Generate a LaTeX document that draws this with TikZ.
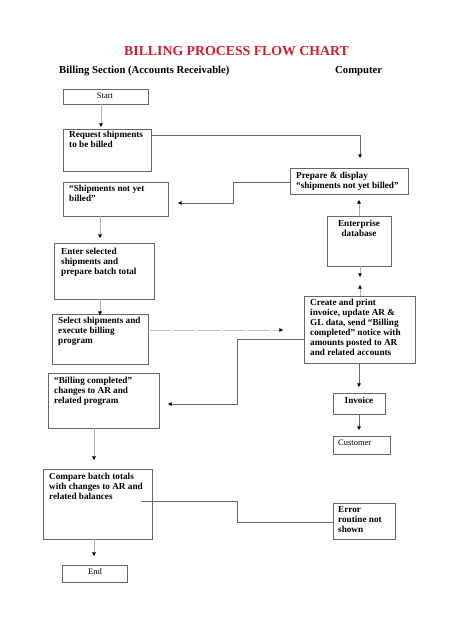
\documentclass[tikz,border=0pt]{standalone}
\usepackage{fontspec}
\setmainfont{Liberation Serif}
\usetikzlibrary{arrows.meta,calc}
\definecolor{titlered}{HTML}{D0202A}
\definecolor{boxgray}{HTML}{666666}
\definecolor{lightgray}{HTML}{B0B0B0}
\begin{document}
\begin{tikzpicture}[x=1pt,y=-1pt,
  box/.style={draw=boxgray,line width=0.9pt,anchor=north west,inner sep=0pt,outer sep=0pt},
  txt/.style={anchor=north west,inner sep=0pt,align=left,font=\fontsize{9.2}{10}\selectfont\bfseries},
  ctxt/.style={anchor=north,inner sep=0pt,align=center,font=\fontsize{9.2}{10}\selectfont\bfseries},
  ntxt/.style={inner sep=0pt,font=\fontsize{8.5}{10}\selectfont},
  tip/.style={-{Triangle[width=3.6pt,length=3.6pt,black]}},
  conn/.style={draw=boxgray,line width=0.8pt,line join=miter},
  faint/.style={draw=lightgray,line width=0.7pt},
  faintdash/.style={draw=lightgray!80,line width=0.7pt,dash pattern=on 22pt off 3pt}]
\useasboundingbox[fill=white] (0,0) rectangle (474,632);

% title and headers
\node[inner sep=0pt,text=titlered,font=\fontsize{13.8}{15}\selectfont\bfseries] (title) at (236.5,51) {BILLING PROCESS FLOW CHART};
\node[inner sep=0pt,anchor=west,font=\fontsize{10.7}{12}\selectfont\bfseries] (hleft) at (59,71) {Billing Section (Accounts Receivable)};
\node[inner sep=0pt,anchor=west,font=\fontsize{10.7}{12}\selectfont\bfseries] (hright) at (335,71) {Computer};

% boxes
\node[box,minimum width=85pt,minimum height=15pt] (start) at (63,89) {};
\node[ntxt] (start-t) at (105,96) {Start};

\node[box,minimum width=88pt,minimum height=42pt] (request) at (63,129) {};
\node[txt] (request-t) at (69,131) {Request shipments\\to be billed};

\node[box,minimum width=118pt,minimum height=26pt] (prepare) at (290,168) {};
\node[txt] (prepare-t) at (296,171.5) {Prepare \& display\\``shipments not yet billed''};

\node[box,minimum width=105pt,minimum height=34pt] (shipnot) at (63,182) {};
\node[txt] (shipnot-t) at (69,184.5) {``Shipments not yet\\billed''};

\node[box,minimum width=64pt,minimum height=50pt] (enterprise) at (327,216) {};
\node[ctxt] (enterprise-t) at (359,219.5) {Enterprise\\database};

\node[box,minimum width=100pt,minimum height=56pt] (enter) at (54,243) {};
\node[txt] (enter-t) at (61,247.5) {Enter selected\\shipments and\\prepare batch total};

\node[box,minimum width=96pt,minimum height=50pt] (select) at (52,314) {};
\node[txt] (select-t) at (58,316.5) {Select shipments and\\execute billing\\program};

\node[box,minimum width=111pt,minimum height=67pt] (create) at (304,296) {};
\node[txt] (create-t) at (310,298.5) {Create and print\\invoice, update AR \&\\GL data, send ``Billing\\completed'' notice with\\amounts posted to AR\\and related accounts};

\node[box,minimum width=111pt,minimum height=55pt] (billcomp) at (48,373) {};
\node[txt] (billcomp-t) at (54,376.5) {``Billing completed''\\changes to AR and\\related program};

\node[box,minimum width=52pt,minimum height=21pt] (invoice) at (333,393) {};
\node[ctxt] (invoice-t) at (359,396.5) {Invoice};

\node[box,minimum width=57pt,minimum height=18pt] (customer) at (333,436) {};
\node[ntxt,anchor=west] (customer-t) at (338,443) {Customer};

\node[box,minimum width=109pt,minimum height=70pt] (compare) at (43,469) {};
\node[txt] (compare-t) at (49,472.5) {Compare batch totals\\with changes to AR and\\related balances};

\node[box,minimum width=62pt,minimum height=36pt] (error) at (333,503) {};
\node[txt] (error-t) at (338,506.5) {Error\\routine not\\shown};

\node[box,minimum width=65pt,minimum height=17pt] (end) at (62,565) {};
\node[ntxt] (end-t) at (95,572) {End};

% connectors
\draw[faint,tip] ($(start.south west)+(38,0)$) -- ($(request.north west)+(38,-2)$);
\draw[conn,tip] ($(request.north east)+(0,6)$) -- ($(prepare.north west)+(70,-33)$) -- ($(prepare.north west)+(70,-10)$);
\draw[conn,tip] ($(prepare.north west)+(0,14)$) -- ($(prepare.north west)+(-57,14)$) -- ($(shipnot.north east)+(65,21)$) -- ($(shipnot.north east)+(10,21)$);
\draw[faint,tip] ($(enterprise.north west)+(32,0)$) -- ($(prepare.south west)+(69,6)$);
\draw[faint,tip] ($(shipnot.south west)+(37,0)$) -- ($(enter.north west)+(46,-5)$);
\draw[faint,tip] ($(enter.south west)+(46,0)$) -- ($(select.north west)+(48,1)$);
\draw[faintdash,tip] ($(select.north east)+(0,16)$) -- ($(create.north west)+(-21,34)$);
\draw[faint,tip] ($(enterprise.south west)+(33,0)$) -- ($(enterprise.south west)+(33,11)$);
\draw[faint,tip] ($(create.north west)+(56,0)$) -- ($(create.north west)+(56,-11)$);
\draw[conn,tip] ($(create.north west)+(0,43)$) -- ($(create.north west)+(-67,43)$) -- ($(billcomp.north east)+(78,31)$) -- ($(billcomp.north east)+(9,31)$);
\draw[conn,tip] ($(create.south west)+(55,0)$) -- ($(invoice.north west)+(26,-6)$);
\draw[conn,tip] ($(invoice.south west)+(26,0)$) -- ($(customer.north west)+(26,-6)$);
\draw[faint,tip] ($(billcomp.south west)+(46,0)$) -- ($(compare.north west)+(51,-9)$);
\draw[conn] ($(compare.north east)+(-11,32)$) -- ($(compare.north east)+(85,32)$) -- ($(error.north west)+(-96,19)$) -- ($(error.north west)+(0,19)$);
\draw[faint,tip] ($(compare.south west)+(51,0)$) -- ($(end.north west)+(32,-9)$);
\end{tikzpicture}
\end{document}
